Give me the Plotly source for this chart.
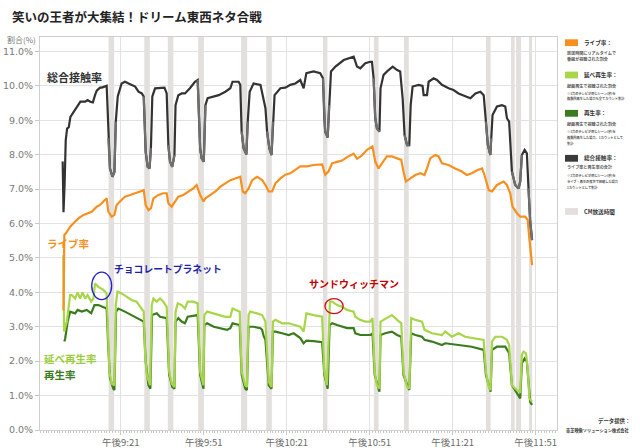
import plotly.graph_objects as go
import numpy as np

# ---------------- data (minutes after 21:00, percent) ----------------
cm_start = [16.6, 29.5, 38.0, 49.0, 64.5, 73.6, 94.1, 112.5, 123.4, 153.0, 162.1, 163.9, 168.6]
cm_end   = [18.6, 31.5, 40.0, 51.0, 66.7, 75.6, 95.7, 114.2, 125.1, 154.7, 163.4, 165.7, 169.7]

tick_vals = [21, 51, 81, 111, 141, 171]
tick_text = ["午後9:21", "午後9:51", "午後10:21", "午後10:51", "午後11:21", "午後11:51"]
y_ticks = list(range(0, 12))
y_text = [f"{v:.1f}%" for v in y_ticks]

black_t = [0.0, 0.3, 0.7, 1.1, 1.6, 2.2, 2.8, 4.0, 5.4, 6.4, 8.2, 9.0, 10.0, 10.9, 11.7, 12.3, 13.5, 14.1, 15.9,
           16.5, 17.1, 18.0, 18.7, 19.2, 19.9, 21.3, 22.5, 24.4, 26.2, 27.4, 28.6, 29.3,
           30.0, 30.7, 31.4, 31.9, 32.4, 33.4, 35.2, 36.8, 37.6,
           38.2, 38.8, 39.6, 40.4, 40.8, 41.8, 43.0, 44.2, 46.0, 47.8, 48.8,
           49.7, 50.2, 51.0, 51.6, 52.4, 54.6, 56.4, 58.8, 60.6, 61.4, 63.6, 64.2,
           64.7, 65.4, 66.4, 66.9, 67.6, 69.0, 71.5, 72.4, 73.3,
           73.9, 74.7, 75.5, 76.0, 76.6, 78.7, 80.5, 82.3, 84.1, 85.9, 87.1, 88.1, 90.7, 93.1, 94.1,
           94.6, 94.9, 95.8, 96.3, 97.0, 98.6, 100.4, 101.6, 105.2, 106.4, 107.6, 109.4, 111.2, 111.8, 112.4,
           113.0, 113.6, 114.5, 114.9, 116.0, 117.8, 119.3, 120.9, 122.0, 122.9,
           123.6, 124.5, 125.3, 125.8, 126.5, 128.7, 130.1, 130.5, 131.7, 132.3, 134.1, 135.3, 137.1, 139.5,
           141.3, 143.1, 145.5, 147.4, 149.2, 151.0, 152.2,
           153.0, 153.7, 154.6, 154.9, 155.4, 157.0, 158.8, 160.0, 160.6, 161.4,
           162.4, 163.6, 164.8, 165.4, 166.0, 167.0, 167.8, 168.4, 169.0, 169.7]
black_v = [7.8, 6.33, 7.16, 8.42, 8.76, 8.8, 9.1, 9.25, 9.4, 9.54, 9.54, 9.59, 9.54, 9.52, 9.73, 9.86, 9.95, 9.95, 10.0,
           8.48, 7.6, 7.36, 7.5, 8.96, 9.69, 10.07, 10.12, 10.05, 9.98, 9.83, 9.78, 9.69,
           8.09, 7.65, 7.6, 8.19, 9.69, 9.93, 9.93, 9.95, 9.78,
           8.28, 7.8, 7.65, 7.99, 9.44, 9.73, 9.78, 9.78, 9.93, 10.12, 10.17,
           8.19, 7.9, 7.8, 9.44, 9.64, 9.69, 9.73, 9.83, 9.93, 10.12, 10.12, 10.03,
           8.67, 8.19, 8.01, 8.96, 9.83, 10.07, 10.03, 9.69, 9.35,
           8.67, 8.19, 7.99, 8.96, 9.73, 9.93, 9.95, 10.03, 10.07, 10.17, 9.93, 10.37, 10.42, 10.37, 10.22,
           9.06, 8.67, 8.5, 9.44, 10.42, 10.56, 10.66, 10.75, 10.85, 10.56, 10.51, 10.66, 10.7, 10.7, 10.22,
           9.06, 8.77, 8.67, 9.93, 10.32, 10.46, 10.56, 10.46, 10.42, 9.64,
           8.57, 8.28, 8.28, 9.44, 9.98, 10.03, 10.0, 9.73, 9.73, 10.12, 10.22, 10.17, 10.03, 9.93,
           9.88, 9.78, 9.69, 9.64, 9.78, 9.83, 9.73,
           8.96, 8.28, 7.99, 8.48, 9.15, 9.4, 9.44, 9.4, 9.06, 8.96,
           7.51, 7.12, 7.02, 7.22, 7.99, 8.14, 8.04, 7.02, 6.06, 5.52]

live_t = [0.3, 0.6, 1.1, 2.7, 3.9, 5.7, 7.5, 9.3, 10.5, 12.3, 13.5, 14.7, 15.9, 16.5, 17.7, 18.7, 19.5, 20.7,
          22.5, 24.4, 26.2, 28.0, 29.3, 30.0, 31.0, 31.9, 32.8, 34.6, 36.4, 37.6, 38.2, 39.4, 40.6, 41.8,
          43.6, 45.4, 47.2, 48.4, 49.7, 50.9, 51.6, 53.4, 55.2, 57.0, 58.8, 60.6, 62.4, 64.2, 65.1, 66.0,
          67.2, 68.5, 70.3, 72.1, 73.3, 74.5, 75.7, 76.9, 78.7, 80.5, 82.3, 84.1, 85.9, 88.3, 90.7, 93.8,
          94.9, 96.1, 97.4, 99.2, 101.0, 102.8, 105.2, 106.4, 108.2, 110.0, 111.2, 112.0, 113.0, 114.2,
          115.4, 117.2, 119.0, 120.9, 122.4, 123.2, 124.1, 125.7, 127.5, 129.3, 130.8, 131.7, 132.9, 134.7,
          135.9, 137.1, 139.5, 141.9, 144.3, 146.1, 147.9, 149.8, 151.6, 152.5, 154.0, 155.2, 157.0, 159.4,
          160.6, 161.8, 162.6, 164.2, 165.4, 167.2, 168.1, 168.7, 169.7]
live_v = [3.48, 5.67, 5.71, 5.91, 6.01, 6.15, 6.25, 6.3, 6.34, 6.49, 6.54, 6.64, 6.73, 6.35, 6.2, 6.25, 6.54, 6.64,
          6.78, 6.83, 6.88, 6.93, 6.97, 6.54, 6.39, 6.44, 6.73, 6.83, 6.88, 6.88, 6.59, 6.49, 6.64, 6.78,
          6.83, 6.93, 7.02, 7.12, 6.83, 6.64, 6.73, 6.83, 6.93, 7.07, 7.17, 7.26, 7.31, 7.36, 6.93, 6.88,
          7.02, 7.26, 7.36, 7.26, 7.12, 6.93, 6.93, 7.17, 7.31, 7.42, 7.46, 7.57, 7.66, 7.66, 7.70, 7.72,
          7.42, 7.51, 7.75, 7.79, 7.83, 7.93, 8.03, 7.88, 7.98, 8.14, 8.19, 8.24, 7.80, 7.60,
          7.75, 7.95, 7.95, 7.90, 7.85, 7.51, 7.22, 7.31, 7.41, 7.46, 7.41, 7.60, 7.90, 7.99,
          7.95, 7.75, 7.70, 7.60, 7.51, 7.41, 7.46, 7.55, 7.60, 7.41, 6.97, 6.93, 7.12, 7.22,
          7.12, 6.88, 6.49, 6.30, 6.20, 6.20, 6.11, 5.57, 4.79]

total_play_t = [0.2, 0.5, 1.5, 2.7, 3.3, 4.5, 5.4, 6.3, 7.2, 8.1, 9.0, 10.3, 11.1, 11.7, 12.9, 14.7, 15.9,
                16.5, 16.9, 17.7, 18.7, 19.2, 19.8, 21.3, 23.1, 24.9, 26.7, 28.0, 29.3,
                29.8, 30.4, 31.6, 32.2, 32.8, 34.0, 35.2, 36.4, 37.6,
                38.5, 39.4, 40.4, 40.8, 41.6, 43.0, 44.2, 45.2, 47.2, 48.8,
                49.7, 50.9, 51.2, 52.2, 54.6, 56.4, 58.8, 60.6, 61.4, 64.0,
                64.7, 66.0, 66.6, 67.2, 67.8, 70.3, 72.1, 73.3,
                73.9, 74.5, 75.5, 76.0, 76.9, 79.3, 81.7, 84.1, 85.9, 87.1, 88.1, 90.7, 93.8,
                94.6, 95.5, 96.3, 96.6, 97.4, 99.2, 101.0, 102.8, 105.2, 105.8, 107.6, 109.4, 111.2, 112.0,
                112.8, 113.6, 114.5, 114.9, 116.0, 117.2, 119.0, 120.9, 122.4,
                123.2, 124.5, 125.3, 126.0, 127.5, 129.9, 130.8, 133.5, 137.1, 138.3, 140.7, 143.1, 145.5,
                147.9, 152.2, 153.0, 154.0, 154.7, 155.2, 156.4, 158.8, 160.6, 161.4,
                162.4, 164.2, 165.4, 166.0, 166.6, 167.5, 168.1, 168.7, 169.7]
total_play_v = [5.08, 2.86, 3.15, 3.92, 3.92, 3.82, 4.0, 3.82, 4.0, 3.82, 3.92, 3.73, 3.82, 4.26, 4.16, 4.07, 3.97,
                2.66, 1.69, 1.35, 1.30, 3.63, 4.02, 3.97, 3.87, 3.78, 3.73, 3.58, 3.44,
                2.18, 1.60, 1.30, 3.63, 3.82, 3.73, 3.82, 3.73, 3.58,
                1.69, 1.35, 1.25, 3.44, 3.68, 3.63, 3.53, 3.73, 3.73, 3.68,
                1.69, 1.30, 3.34, 3.44, 3.39, 3.34, 3.29, 3.29, 3.53, 3.44,
                1.69, 1.30, 1.25, 3.34, 3.44, 3.39, 3.34, 3.15,
                2.20, 1.40, 1.25, 3.15, 3.20, 3.10, 3.10, 3.05, 3.00, 2.86, 3.39, 3.34, 3.29,
                1.69, 1.30, 2.96, 3.73, 3.73, 3.63, 3.58, 3.49, 3.44, 3.29, 3.20, 3.15, 3.15, 3.25,
                1.69, 1.30, 1.20, 3.15, 3.20, 3.25, 3.34, 3.20, 3.10,
                1.69, 1.25, 1.20, 3.25, 3.20, 3.15, 2.91, 2.81, 2.76, 2.86, 2.71, 2.81, 2.71,
                2.67, 2.62, 1.69, 1.25, 1.16, 2.57, 2.71, 2.71, 2.62, 2.47,
                1.30, 1.16, 1.11, 2.18, 2.28, 2.23, 1.79, 0.92, 0.82]

play_t = [0.6, 0.9, 1.8, 2.7, 4.5, 5.4, 6.9, 8.7, 10.3, 11.5, 12.9, 14.7, 15.9,
          16.5, 17.1, 18.3, 18.7, 19.3, 20.1, 22.5, 24.9, 27.4, 29.3,
          30.0, 31.0, 31.7, 32.3, 34.0, 35.2, 37.6,
          38.5, 39.6, 40.4, 40.8, 41.8, 43.0, 44.2, 45.2, 48.8,
          49.7, 50.9, 51.2, 52.2, 54.6, 57.0, 59.4, 60.6, 61.4, 64.0,
          64.7, 66.0, 66.6, 67.2, 69.0, 71.5, 72.1, 72.7, 73.3,
          74.5, 75.5, 76.0, 76.9, 79.3, 81.7, 83.5, 85.9, 87.1, 88.1, 90.7, 93.8,
          94.6, 95.8, 96.5, 97.4, 99.2, 101.0, 102.8, 105.2, 105.8, 107.6, 111.2, 112.0,
          112.8, 114.5, 114.9, 116.6, 119.0, 120.9, 122.4,
          123.2, 125.3, 126.0, 127.5, 129.9, 130.8, 133.5, 137.1, 138.3, 143.1, 147.9, 152.2,
          153.0, 154.7, 155.2, 157.0, 160.0, 161.4,
          162.4, 165.4, 166.0, 167.0, 167.8, 168.4, 169.0, 169.7]
play_v = [2.57, 2.66, 3.15, 3.44, 3.39, 3.49, 3.44, 3.49, 3.39, 3.63, 3.63, 3.58, 3.53,
          2.40, 1.50, 1.20, 1.16, 3.44, 3.53, 3.44, 3.34, 3.25, 3.15,
          2.00, 1.30, 1.20, 3.34, 3.39, 3.29, 3.25,
          1.60, 1.25, 1.20, 3.15, 3.25, 3.15, 3.10, 3.29, 3.34,
          1.60, 1.20, 3.05, 3.10, 3.00, 2.96, 2.91, 2.96, 3.10, 3.05,
          1.60, 1.20, 1.16, 3.00, 3.00, 2.96, 2.91, 2.72, 2.62,
          1.30, 1.20, 2.86, 2.86, 2.81, 2.76, 2.81, 2.67, 2.52, 2.60, 2.58, 2.55,
          1.60, 1.20, 3.05, 3.10, 3.05, 3.00, 2.96, 2.96, 2.81, 2.76, 2.76, 2.81,
          1.60, 1.11, 2.76, 2.81, 2.86, 2.76, 2.71,
          1.60, 1.16, 2.81, 2.76, 2.71, 2.62, 2.57, 2.47, 2.52, 2.47, 2.42, 2.33,
          1.60, 1.11, 2.33, 2.42, 2.42, 2.23,
          1.30, 0.92, 1.94, 2.08, 1.99, 1.40, 0.82, 0.73]

# ---------------- styling ----------------
C_BLACK = "#333333"
C_BLACK_CM = "#6f6f6f"
C_ORANGE = "#f7901e"
C_LGREEN = "#a8d64a"
C_DGREEN = "#3a7b1e"
C_CM = "#e3dfdc"
JP = "Noto Sans CJK JP"
NUM = "DejaVu Sans"

# plot area in pixels
L, R, T, B = 40, 557, 37, 430
def px(xp):
    return (xp - L) / (R - L)
def py(yp):
    return (B - yp) / (B - T)

fig = go.Figure()

fig.add_trace(go.Scatter(x=play_t, y=play_v, mode="lines", line=dict(color=C_DGREEN, width=2.2), hoverinfo="skip"))
fig.add_trace(go.Scatter(x=total_play_t, y=total_play_v, mode="lines", line=dict(color=C_LGREEN, width=2.2), hoverinfo="skip"))
fig.add_trace(go.Scatter(x=live_t, y=live_v, mode="lines", line=dict(color=C_ORANGE, width=2.2), hoverinfo="skip"))
fig.add_trace(go.Scatter(x=black_t, y=black_v, mode="lines", line=dict(color=C_BLACK, width=2.2), hoverinfo="skip"))

# CM portion of total contact line drawn lighter
bt = np.array(black_t)
in_cm = np.zeros(len(bt), dtype=bool)
for s, e in zip(cm_start, cm_end):
    in_cm |= (bt >= s - 0.2) & (bt <= e + 0.6)
gray_v = [v if m else None for v, m in zip(black_v, in_cm)]
fig.add_trace(go.Scatter(x=black_t, y=gray_v, mode="lines", line=dict(color=C_BLACK_CM, width=2.2),
                         connectgaps=False, hoverinfo="skip"))

shapes = []
for s, e in zip(cm_start, cm_end):
    shapes.append(dict(type="rect", xref="x", yref="paper", x0=s, x1=e, y0=0, y1=1,
                       fillcolor=C_CM, line=dict(width=0), layer="below"))
# highlight ellipses
shapes.append(dict(type="circle", xref="x", yref="y", x0=10.5, x1=17.7, y0=3.79, y1=4.59,
                   line=dict(color="#1f1fd0", width=1.3)))
shapes.append(dict(type="circle", xref="x", yref="y", x0=94.8, x1=101.4, y0=3.38, y1=3.82,
                   line=dict(color="#cc1010", width=1.3)))

ann = []
def A(x, y, text, size, color, xref="x", yref="y", xanchor="left", family=JP, bold=True):
    ann.append(dict(x=x, y=y, xref=xref, yref=yref, text=(f"<b>{text}</b>" if bold else text),
                    showarrow=False, xanchor=xanchor, yanchor="middle",
                    font=dict(family=family, size=size, color=color)))

A(-6.4, 10.26, "総合接触率", 11, "#333333")
A(-6.4, 5.43, "ライブ率", 10.5, C_ORANGE)
A(-7.4, 2.08, "延べ再生率", 10.5, "#9ccc3c")
A(-7.4, 1.62, "再生率", 10.5, C_DGREEN)
A(17.7, 4.69, "チョコレートプラネット", 9.8, "#1f1fa8")
A(88.2, 4.25, "サンドウィッチマン", 10, "#c00000")

# axis unit label
A(px(21), py(39), "割合(%)", 8, "#777777", xref="paper", yref="paper", xanchor="center", bold=False)

# custom legend on right
legend_items = [
    (C_ORANGE, 42.7, "ライブ率：", [(52.7, "放送時間にリアルタイムで", 4.1), (59.3, "番組が視聴された割合", 4.1)]),
    (C_LGREEN, 75.0, "延べ再生率：", [(86.0, "録画再生で視聴された割合", 4.1),
                                   (93.3, "※1台のテレビが同じシーン(秒)を", 3.2),
                                   (99.0, "複数回再生した場合も全てカウント集計", 3.2)]),
    (C_DGREEN, 113.3, "再生率：", [(124.3, "録画再生で視聴された割合", 4.1),
                                (131.5, "※1台のテレビが同じシーン(秒)を", 3.2),
                                (137.3, "複数回再生した場合、1カウントとして", 3.2),
                                (143.1, "集計", 3.2)]),
    ("#3a3a3a", 158.3, "総合接触率：", [(166.7, "ライブ率と再生率の合計", 4.1),
                                     (175.0, "※1台のテレビが同じシーン(秒)を", 3.2),
                                     (181.5, "ライブ・再生の双方で視聴した場合", 3.2),
                                     (187.5, "1カウントとして集計", 3.2)]),
    (C_CM, 211.5, "CM放送時間", []),
]
for color, yc, title, lines in legend_items:
    shapes.append(dict(type="rect", xref="paper", yref="paper", x0=px(565), x1=px(578),
                       y0=py(yc + 3.4), y1=py(yc - 3.4), fillcolor=color, line=dict(width=0)))
    A(px(582), py(yc), title, 5.6, "#333333", xref="paper", yref="paper")
    for yy, txt, sz in lines:
        A(px(565), py(yy), txt, sz, "#555555", xref="paper", yref="paper", bold=True)

A(px(632), py(421), "データ提供：", 5.4, "#333333", xref="paper", yref="paper", xanchor="right")
A(px(632), py(430), "東芝映像ソリューション株式会社", 4.2, "#333333", xref="paper", yref="paper", xanchor="right")

fig.update_layout(
    width=640, height=448,
    margin=dict(l=L, r=640 - R, t=T, b=448 - B, pad=0, autoexpand=False),
    paper_bgcolor="white", plot_bgcolor="white",
    showlegend=False,
    title=dict(text="<b>笑いの王者が大集結！ドリーム東西ネタ合戦</b>", x=12 / 640, xanchor="left",
               y=1 - 18 / 448, yanchor="middle", font=dict(family=JP, size=12.5, color="#222222")),
    shapes=shapes, annotations=ann,
    xaxis=dict(range=[-8.2, 178.7], tickmode="array", tickvals=tick_vals, ticktext=tick_text,
               automargin=False,
               showgrid=True, gridcolor="#e2e2e2", gridwidth=1, zeroline=False,
               showline=True, linecolor="#cfcfcf", linewidth=1, mirror=True,
               ticks="outside", ticklen=4, tickcolor="#c8c8c8",
               minor=dict(dtick=1, tick0=0, ticks="outside", ticklen=2, tickcolor="#c8c8c8", showgrid=False),
               tickfont=dict(family=JP, size=9.5, color="#6a6a6a"), fixedrange=True),
    yaxis=dict(range=[0, 11.42], tickmode="array", tickvals=y_ticks, ticktext=y_text,
               automargin=False,
               showgrid=True, gridcolor="#e2e2e2", gridwidth=1, zeroline=False,
               showline=True, linecolor="#cfcfcf", linewidth=1, mirror=True,
               ticks="outside", ticklen=4, tickcolor="#c8c8c8",
               tickfont=dict(family=NUM, size=9.5, color="#777777"), fixedrange=True),
)

fig.write_html("out.html", config={"displayModeBar": False},
               post_script="document.body.style.margin='0';")
